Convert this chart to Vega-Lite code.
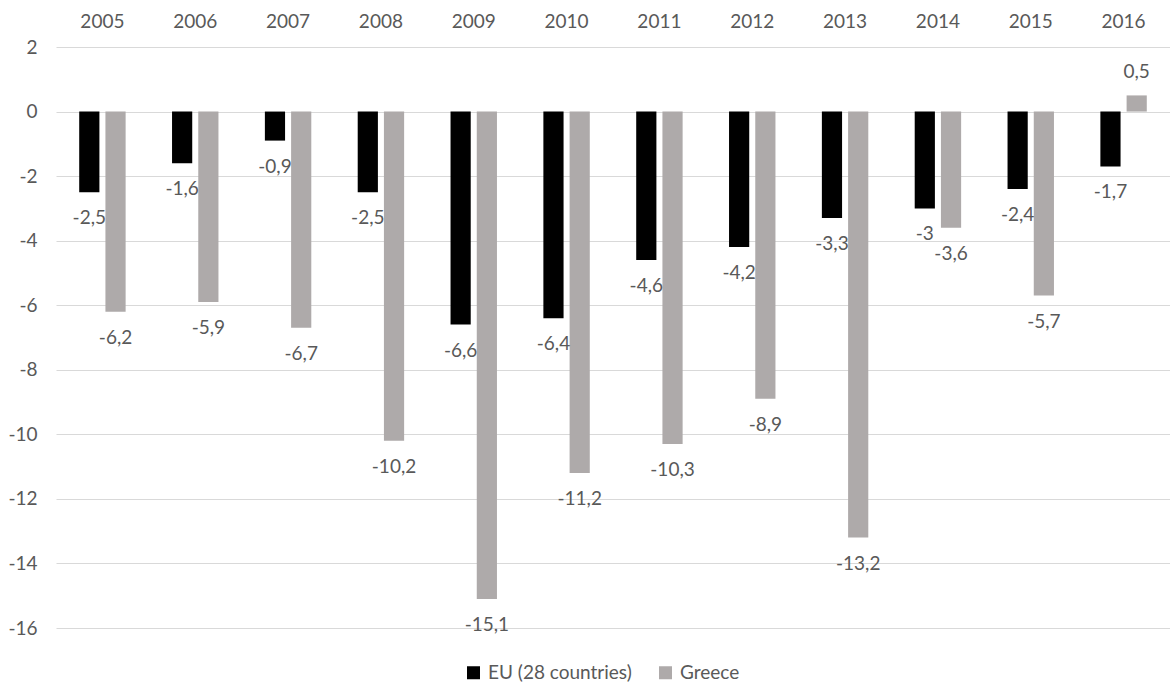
{
  "$schema": "https://vega.github.io/schema/vega-lite/v6.json",
  "width": 1114,
  "height": 581,
  "autosize": {"type": "none"},
  "padding": {"left": 56, "top": 47, "right": 0, "bottom": 56},
  "background": "#ffffff",
  "config": {
    "font": "Lato",
    "view": {"stroke": null},
    "locale": {
      "number": {
        "decimal": ",",
        "thousands": ".",
        "grouping": [3],
        "currency": ["", " €"],
        "minus": "-"
      }
    },
    "axis": {
      "labelFont": "Lato",
      "labelFontSize": 19,
      "labelColor": "#595959",
      "domain": false,
      "ticks": false,
      "title": null
    },
    "legend": {
      "labelFont": "Lato",
      "labelFontSize": 19,
      "labelColor": "#595959"
    }
  },
  "data": {
    "values": [
      {"year": "2005", "series": "EU (28 countries)", "value": -2.5},
      {"year": "2006", "series": "EU (28 countries)", "value": -1.6},
      {"year": "2007", "series": "EU (28 countries)", "value": -0.9},
      {"year": "2008", "series": "EU (28 countries)", "value": -2.5},
      {"year": "2009", "series": "EU (28 countries)", "value": -6.6},
      {"year": "2010", "series": "EU (28 countries)", "value": -6.4},
      {"year": "2011", "series": "EU (28 countries)", "value": -4.6},
      {"year": "2012", "series": "EU (28 countries)", "value": -4.2},
      {"year": "2013", "series": "EU (28 countries)", "value": -3.3},
      {"year": "2014", "series": "EU (28 countries)", "value": -3},
      {"year": "2015", "series": "EU (28 countries)", "value": -2.4},
      {"year": "2016", "series": "EU (28 countries)", "value": -1.7},
      {"year": "2005", "series": "Greece", "value": -6.2},
      {"year": "2006", "series": "Greece", "value": -5.9},
      {"year": "2007", "series": "Greece", "value": -6.7},
      {"year": "2008", "series": "Greece", "value": -10.2},
      {"year": "2009", "series": "Greece", "value": -15.1},
      {"year": "2010", "series": "Greece", "value": -11.2},
      {"year": "2011", "series": "Greece", "value": -10.3},
      {"year": "2012", "series": "Greece", "value": -8.9},
      {"year": "2013", "series": "Greece", "value": -13.2},
      {"year": "2014", "series": "Greece", "value": -3.6},
      {"year": "2015", "series": "Greece", "value": -5.7},
      {"year": "2016", "series": "Greece", "value": 0.5}
    ]
  },
  "encoding": {
    "x": {
      "field": "year",
      "type": "ordinal",
      "scale": {"paddingInner": 0.5, "paddingOuter": 0.25},
      "axis": {"orient": "top", "labelAngle": 0, "grid": false, "labelPadding": 16}
    },
    "xOffset": {
      "field": "series",
      "type": "nominal",
      "sort": ["EU (28 countries)", "Greece"],
      "scale": {"paddingInner": 0.23, "paddingOuter": 0}
    },
    "y": {
      "field": "value",
      "type": "quantitative",
      "scale": {"domain": [-16, 2], "nice": false, "zero": false},
      "axis": {
        "values": [-16, -14, -12, -10, -8, -6, -4, -2, 0, 2],
        "grid": true,
        "gridColor": "#d9d9d9",
        "gridWidth": 1,
        "labelPadding": 19
      }
    }
  },
  "layer": [
    {
      "mark": {"type": "bar"},
      "encoding": {
        "color": {
          "field": "series",
          "type": "nominal",
          "sort": ["EU (28 countries)", "Greece"],
          "scale": {"domain": ["EU (28 countries)", "Greece"], "range": ["#000000", "#aeaaaa"]},
          "legend": {
            "orient": "none",
            "legendX": 408,
            "legendY": 616,
            "direction": "horizontal",
            "title": null,
            "symbolType": "square",
            "symbolSize": 169,
            "symbolStrokeWidth": 0,
            "labelOffset": 5,
            "columnPadding": 24
          }
        }
      }
    },
    {
      "transform": [{"filter": "datum.value < 0"}],
      "mark": {"type": "text", "baseline": "middle", "align": "center", "dy": 26, "fontSize": 19, "color": "#595959"},
      "encoding": {"text": {"field": "value", "type": "quantitative", "format": "~g"}}
    },
    {
      "transform": [{"filter": "datum.value >= 0"}],
      "mark": {"type": "text", "baseline": "middle", "align": "center", "dy": -23, "fontSize": 19, "color": "#595959"},
      "encoding": {"text": {"field": "value", "type": "quantitative", "format": "~g"}}
    }
  ]
}
